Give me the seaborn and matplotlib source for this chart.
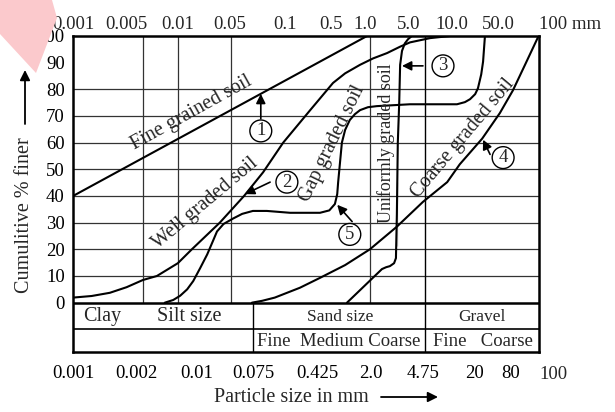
import numpy as np
import pandas as pd
import seaborn as sns
import matplotlib.pyplot as plt
from matplotlib.patches import Polygon

# x = position across the chart (0 = 0.001 mm edge, 100 = 100 mm edge)
# y = cumulative % finer
fine_x = [0.0, 63.1]
fine_y = [40.0, 100.0]

well_x = [0.0, 4.0, 7.9, 11.5, 15.0, 18.0, 22.5, 25.5, 31.5, 36.7, 40.8, 45.1, 50.9, 55.8, 58.4,
          61.6, 64.4, 67.4, 70.2, 72.3, 76.6, 80.9]
well_y = [1.9, 2.5, 3.7, 5.8, 8.5, 10.0, 14.8, 20.0, 30.0, 40.0, 48.9, 60.0, 72.2, 82.4, 86.0,
          89.2, 91.6, 93.6, 96.0, 97.6, 99.2, 100.0]

unif_x = [58.8, 66.3, 67.2, 68.0, 68.9, 69.3, 69.5, 69.5, 69.7, 70.0, 70.2, 70.6, 71.2, 71.9, 72.7]
unif_y = [0.0, 12.6, 13.3, 13.7, 14.8, 16.7, 21.1, 45.2, 60.0, 74.8, 89.2, 94.4, 97.2, 98.8, 100.0]

coarse_x = [38.4, 40.6, 43.3, 48.7, 53.0, 58.4, 63.7, 69.5, 75.1, 80.3, 83.0, 87.8, 91.6, 94.4, 97.0, 99.8]
coarse_y = [0.0, 0.7, 1.9, 5.6, 9.3, 14.1, 20.0, 28.5, 37.8, 45.2, 51.9, 61.5, 71.1, 79.6, 89.2, 99.6]

gap_x = [19.7, 21.5, 23.0, 24.5, 25.8, 27.3, 28.8, 30.0, 30.9, 32.3, 34.3, 36.3, 38.6, 41.6, 46.6,
         53.0, 55.0, 56.2, 56.7, 56.9, 57.7, 58.4, 59.4, 60.5, 61.6, 63.3, 65.2, 72.3, 82.4, 84.1,
         85.2, 86.3, 86.9, 87.6, 88.0, 88.4]
gap_y = [0.0, 1.0, 2.6, 5.0, 8.1, 13.0, 18.1, 23.0, 26.7, 29.5, 31.5, 33.3, 34.4, 34.4, 33.7,
         33.7, 34.6, 37.0, 40.7, 45.2, 60.0, 64.8, 68.5, 70.7, 72.2, 73.3, 73.7, 74.4, 74.4, 75.2,
         76.3, 78.2, 80.4, 85.6, 90.4, 100.0]

# tick labels
top_labels = ["0.001", "0.005", "0.01", "0.05", "0.1", "0.5", "1.0", "5.0", "10.0", "50.0", "100 mm"]
top_pos = [0.0, 11.4, 22.5, 33.7, 45.5, 55.4, 62.7, 72.1, 81.3, 91.2, 100.0]
bottom_labels = ["0.001", "0.002", "0.01", "0.075", "0.425", "2.0", "4.75", "20", "80"]
bottom_pos = [0.0, 13.7, 26.6, 38.8, 52.4, 63.9, 75.1, 86.1, 94.0]

sns.set_theme(style="white")
plt.rcParams['font.family'] = ['Liberation Serif', 'DejaVu Serif']

fig = plt.figure(figsize=(6.15, 4.12), dpi=100)
ax = fig.add_axes([73 / 615, 1 - 352 / 412, 466 / 615, 316 / 412])
ax.set_xlim(0, 100)
ax.set_ylim(-18.5, 100)

# grid
gc = '#333333'
ax.hlines(np.arange(10, 81, 10), 0, 100, color=gc, lw=0.9, zorder=1)
ax.vlines([15.0, 22.5, 33.9, 63.7], 0, 100, color=gc, lw=0.9, zorder=1)
ax.vlines([75.5], -18.5, 100, color='black', lw=1.0, zorder=1)
ax.vlines([38.6], -18.5, 0, color='black', lw=1.0, zorder=1)
ax.hlines([0], 0, 100, color='black', lw=1.8, zorder=3)
ax.hlines([-10], 0, 100, color='black', lw=1.2, zorder=3)

curves = [(fine_x, fine_y), (well_x, well_y), (unif_x, unif_y), (coarse_x, coarse_y), (gap_x, gap_y)]
for cx, cy in curves:
    sns.lineplot(x=cx, y=cy, sort=False, color='black', lw=1.5, ax=ax, zorder=4)

# curve names
lab = dict(fontsize=14.5, ha='center', va='center', rotation_mode='anchor', zorder=5)
ax.text(25.5, 71.0, "Fine grained soil", rotation=29, **lab)
ax.text(28.3, 37.2, "Well graded soil", rotation=40, **lab)
ax.text(55.6, 59.8, "Gap graded soil", rotation=64, **lab)
ax.text(67.2, 59.8, "Uniformly graded soil", rotation=90, **dict(lab, fontsize=13))
ax.text(83.7, 61.6, "Coarse graded soil", rotation=50, **lab)

# numbered markers with arrows
marks = [("1", (40.3, 78.3), (40.3, 69.0), (40.3, 64.4)),
         ("2", (36.9, 40.7), (42.3, 45.2), (45.9, 45.2)),
         ("3", (70.6, 88.8), (75.1, 88.8), (79.4, 88.8)),
         ("4", (88.0, 61.1), (89.5, 55.6), (92.3, 54.4)),
         ("5", (56.7, 36.7), (59.9, 30.4), (59.4, 25.6))]
for num, tip, tail, circ in marks:
    ax.annotate("", xy=tip, xytext=tail,
                arrowprops=dict(arrowstyle='-|>', color='black', lw=1.2, mutation_scale=14,
                                shrinkA=0, shrinkB=0), zorder=5)
    ax.text(circ[0], circ[1], num, fontsize=13.5, ha='center', va='center', zorder=5,
            bbox=dict(boxstyle='circle,pad=0.13', fc='white', ec='black', lw=1.0))

# table text below the plot
ax.text(6.2, -5.2, "Clay", fontsize=14.5, ha='center', va='center')
ax.text(24.9, -5.2, "Silt size", fontsize=14.5, ha='center', va='center')
ax.text(57.3, -5.2, "Sand size", fontsize=12.5, ha='center', va='center')
ax.text(87.8, -5.2, "Gravel", fontsize=12.5, ha='center', va='center')
ax.text(57.0, -14.4, "Fine  Medium Coarse", fontsize=13.5, ha='center', va='center')
ax.text(88.0, -14.4, "Fine   Coarse", fontsize=13.5, ha='center', va='center')

# axes ticks
ax.set_yticks(np.arange(0, 101, 10))
ax.set_yticklabels([str(v) for v in range(0, 101, 10)])
ax.set_xticks(bottom_pos)
ax.set_xticklabels(bottom_labels)
ax.tick_params(axis='both', length=0, labelsize=13.5, colors='black')
ax.tick_params(axis='x', pad=9)
ax.tick_params(axis='y', pad=6)
ax.text(103.0, -23.6, "100", fontsize=13.5, ha='center', va='top')

top = ax.secondary_xaxis('top')
top.set_xticks(top_pos)
top.set_xticklabels(top_labels)
top.tick_params(length=0, labelsize=13.5, pad=2)
top.get_xticklabels()[-1].set_horizontalalignment('left')
for s in top.spines.values():
    s.set_visible(False)

for s in ax.spines.values():
    s.set_linewidth(1.8)
    s.set_color('black')
ax.set_xlabel("")
ax.set_ylabel("")

# axis titles with arrows
fig.text(25 / 615, 1 - 215 / 412, "Cumulitive % finer", rotation=90, fontsize=14.5,
         ha='center', va='center')
ax.annotate("", xy=(25 / 615, 1 - 70 / 412), xytext=(25 / 615, 1 - 124 / 412),
            xycoords='figure fraction', textcoords='figure fraction',
            arrowprops=dict(arrowstyle='-|>', color='black', lw=1.3, mutation_scale=15,
                            shrinkA=0, shrinkB=0))
fig.text(291 / 615, 1 - 398 / 412, "Particle size in mm", fontsize=14.5, ha='center', va='center')
ax.annotate("", xy=(438 / 615, 1 - 397 / 412), xytext=(381 / 615, 1 - 397 / 412),
            xycoords='figure fraction', textcoords='figure fraction',
            arrowprops=dict(arrowstyle='-|>', color='black', lw=1.3, mutation_scale=15,
                            shrinkA=0, shrinkB=0))

# pink corner ribbon
fig.patches.append(Polygon([(0, 1), (52 / 615, 1), (57 / 615, 1 - 18 / 412),
                            (36 / 615, 1 - 73 / 412), (0, 1 - 34 / 412)],
                           closed=True, transform=fig.transFigure, fc='#fbc9cc', ec='none',
                           zorder=0))

fig.savefig("out.png", dpi=100)
